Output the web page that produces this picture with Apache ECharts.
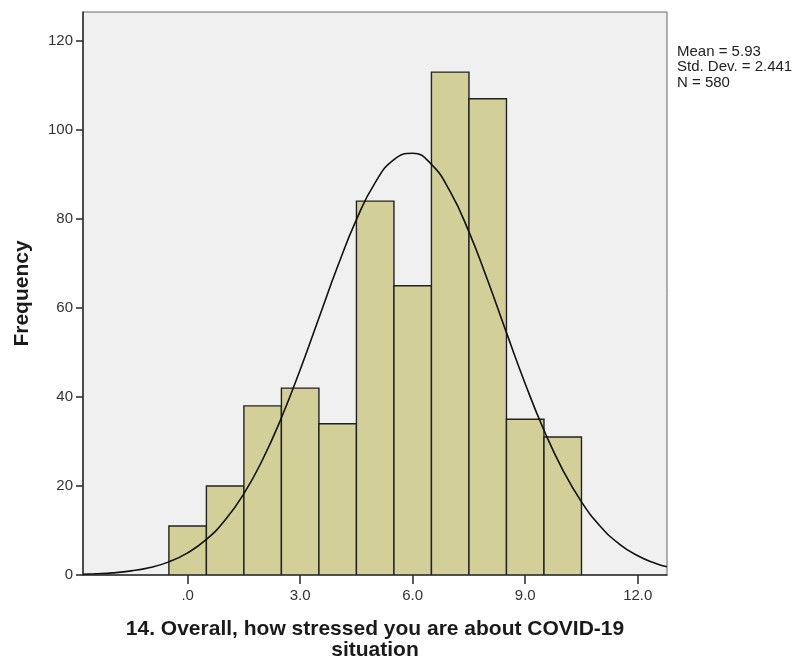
<!DOCTYPE html>
<html><head><meta charset="utf-8">
<script src="https://cdn.jsdelivr.net/npm/echarts@6/dist/echarts.min.js"></script>
<style>html,body{margin:0;padding:0;background:#fff}#c{width:798px;height:660px}</style>
</head><body><div id="c"></div>
<script>
const binCenters = [0,1,2,3,4,5,6,7,8,9,10];
const frequencies = [11,20,38,42,34,84,65,113,107,35,31];
const curveX = [-2.79,-2.5,-2,-1.5,-1,-0.5,0,0.5,1,1.5,2,2.5,3,3.5,4,4.5,5,5.5,6,6.5,7,7.5,8,8.5,9,9.5,10,10.5,11,11.5,12,12.5,12.78];
const curveY = [0.16,0.27,0.48,0.92,1.68,2.95,4.96,7.99,12.34,18.27,25.95,35.33,46.13,57.76,69.36,79.85,88.16,93.34,94.76,92.25,86.12,77.09,66.17,54.46,42.98,32.53,23.62,16.44,10.97,7.02,4.31,2.53,1.85];
const xTicks = [0,3,6,9,12];
const yTicks = [0,20,40,60,80,100,120];
const statsLines = ['Mean = 5.93','Std. Dev. = 2.441','N = 580'];
const xTitle = '14. Overall, how stressed you are about COVID-19\nsituation';
const yTitle = 'Frequency';

const chart = echarts.init(document.getElementById('c'), null, {renderer:'canvas'});
const font = '"Liberation Sans", Arial, sans-serif';
chart.setOption({
  animation:false,
  backgroundColor:'#ffffff',
  grid:{left:83,right:131,top:12,bottom:85,containLabel:false,outerBoundsMode:'none',show:true,backgroundColor:'#f0f0f0',borderColor:'#666',borderWidth:1},
  xAxis:{type:'value',min:-2.79,max:12.78,
    axisLine:{show:true,onZero:false,lineStyle:{color:'#333',width:1.6}},
    axisTick:{show:true,customValues:xTicks,length:9,lineStyle:{color:'#333',width:1.6}},
    axisLabel:{customValues:xTicks,color:'#333',fontFamily:font,fontSize:15,margin:13,
      formatter:v=>v===0?'.0':v.toFixed(1)},
    splitLine:{show:false},
    name:xTitle,nameLocation:'middle',nameGap:44,
    nameTextStyle:{fontFamily:font,fontSize:21,fontWeight:'bold',color:'#1a1a1a',lineHeight:21}
  },
  yAxis:{type:'value',min:0,max:126.5,
    axisLine:{show:true,onZero:false,lineStyle:{color:'#333',width:1.6}},
    axisTick:{show:true,customValues:yTicks,length:7,lineStyle:{color:'#333',width:1.6}},
    axisLabel:{color:'#333',fontFamily:font,fontSize:15,margin:10,customValues:yTicks},
    splitLine:{show:false},
    name:yTitle,nameLocation:'middle',nameGap:50,
    nameTextStyle:{fontFamily:font,fontSize:21,fontWeight:'bold',color:'#1a1a1a'}
  },
  graphic:[{type:'text',left:677,top:44,style:{text:statsLines.join('\n'),fontFamily:font,fontSize:15,lineHeight:15.5,fill:'#222'}}],
  series:[
    {type:'custom',clip:true,data:binCenters.map((c,i)=>[c,frequencies[i]]),
      renderItem:function(params,api){
        const c=api.value(0),v=api.value(1);
        const p0=api.coord([c-0.5,v]);const p1=api.coord([c+0.5,0]);
        return {type:'rect',shape:{x:p0[0],y:p0[1],width:p1[0]-p0[0],height:p1[1]-p0[1]},
          style:{fill:'#d3cf98',stroke:'#222',lineWidth:1.4}};
      }},
    {type:'line',data:curveX.map((x,i)=>[x,curveY[i]]),smooth:true,symbol:'none',
      lineStyle:{color:'#111',width:1.6},z:5}
  ]
});
</script></body></html>
